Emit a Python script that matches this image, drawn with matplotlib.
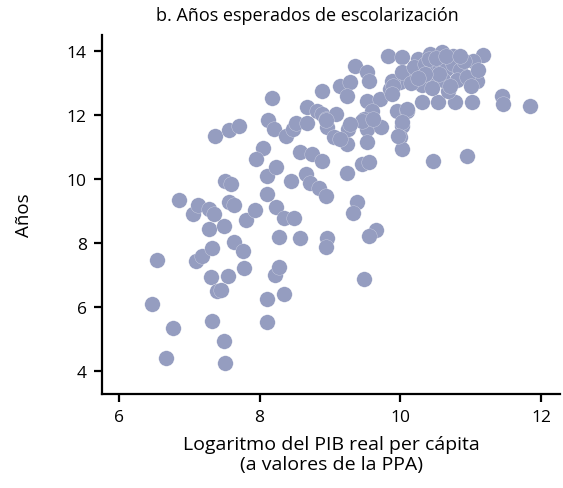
import matplotlib
matplotlib.use("Agg")
import matplotlib.pyplot as plt

# log real GDP per capita (PPP) and expected years of schooling, one pair per country
log_gdp = [
    6.54, 6.47, 6.77, 6.67, 7.33, 7.50, 7.51, 8.11, 8.11, 8.34,
    8.22, 8.28, 7.31, 7.55, 7.40, 7.45, 7.78, 7.10, 7.18, 7.33,
    7.64, 7.77, 7.28, 7.50, 6.86, 7.05, 7.13, 7.28, 7.35, 7.57,
    7.64, 7.81, 7.94, 8.11, 8.24, 8.35, 8.49, 8.27, 8.57, 8.96,
    8.94, 7.51, 7.60, 8.11, 8.24, 8.44, 8.66, 8.71, 8.84, 8.95,
    8.57, 8.74, 8.89, 8.05, 7.95, 7.37, 7.57, 7.71, 8.17, 8.12,
    8.21, 8.38, 8.47, 8.52, 8.68, 8.68, 8.81, 8.89, 8.89, 8.94,
    9.24, 9.46, 9.56, 9.39, 9.32, 9.66, 9.56, 9.49, 10.46, 10.95,
    9.83, 10.03, 9.35, 9.53, 9.56, 9.14, 9.28, 9.24, 8.96, 9.06,
    9.24, 9.25, 9.52, 9.71, 9.59, 9.49, 9.52, 9.53, 9.73, 9.85,
    9.99, 9.88, 9.95, 10.10, 10.02, 9.99, 10.02, 10.30, 10.53, 10.77,
    11.02, 10.67, 11.17, 11.03, 11.09, 11.44, 11.46, 11.84, 9.09, 9.46,
    9.61, 10.18, 10.38, 10.52, 10.25, 10.42, 10.59, 10.75, 10.03, 9.89,
    9.88, 10.09, 10.02, 9.96, 9.14, 9.28, 8.95,
    10.20, 10.35, 10.45, 10.55, 10.65, 10.75, 10.85, 10.90, 10.60, 10.80,
    10.95, 11.00, 10.30, 10.45, 10.70, 10.40, 10.50, 10.65, 10.85, 10.15,
    11.10, 10.55, 10.35, 10.25,
]
years = [
    7.47, 6.09, 5.34, 4.41, 5.56, 4.94, 4.25, 5.53, 6.25, 6.41,
    7.00, 7.25, 6.94, 6.97, 6.50, 6.53, 7.22, 7.44, 7.59, 7.84,
    8.03, 7.75, 8.44, 8.53, 9.34, 8.91, 9.19, 9.06, 8.91, 9.28,
    9.19, 8.72, 9.03, 9.53, 9.13, 8.78, 8.78, 8.19, 8.16, 8.16,
    7.88, 9.94, 9.84, 10.09, 10.38, 9.94, 10.16, 9.88, 9.72, 9.47,
    10.84, 10.78, 10.56, 10.97, 10.63, 11.34, 11.53, 11.66, 12.53, 11.84,
    11.56, 11.34, 11.56, 11.75, 11.75, 12.25, 12.13, 12.03, 12.75, 11.88,
    10.19, 10.47, 10.53, 9.28, 8.94, 8.41, 8.22, 6.88, 10.56, 10.72,
    13.84, 13.81, 13.53, 13.34, 13.06, 12.91, 13.03, 12.59, 11.63, 11.31,
    11.09, 11.56, 12.44, 12.50, 12.13, 11.88, 11.56, 11.16, 11.63, 12.81,
    13.03, 13.06, 12.13, 12.13, 11.66, 11.31, 10.94, 12.41, 12.41, 12.41,
    12.41, 12.75, 13.88, 13.69, 13.06, 12.59, 12.34, 12.28, 12.03, 11.81,
    11.88, 13.22, 13.13, 13.22, 13.75, 13.91, 13.97, 13.84, 13.34, 12.91,
    12.66, 12.19, 11.78, 11.34, 11.25, 11.72, 11.84,
    13.50, 13.60, 13.40, 13.60, 13.45, 13.60, 13.40, 13.70, 13.10, 13.10,
    13.20, 12.90, 12.95, 12.85, 12.90, 13.75, 13.80, 13.85, 13.85, 13.00,
    13.40, 13.30, 13.30, 13.15,
]

x_ticks = [6, 8, 10, 12]
y_ticks = [4, 6, 8, 10, 12, 14]

plt.rcParams['font.family'] = ['Open Sans', 'DejaVu Sans']

fig = plt.figure(figsize=(5.63, 4.89), dpi=100)
ax = fig.add_axes([0.181, 0.192, 0.814, 0.734])

ax.scatter(log_gdp, years, s=125, color='#959dc0', edgecolors='white',
           linewidths=0.15, zorder=3)

ax.set_xlim(5.76, 12.27)
ax.set_ylim(3.28, 14.5)
ax.set_xticks(x_ticks)
ax.set_yticks(y_ticks)

for side in ['top', 'right']:
    ax.spines[side].set_visible(False)
for side in ['left', 'bottom']:
    ax.spines[side].set_linewidth(1.6)
ax.tick_params(direction='out', length=6, width=1.6, labelsize=12.5,
               colors='black', pad=5)

ax.set_ylabel('Años', fontsize=13.5, labelpad=24)
ax.set_xlabel('Logaritmo del PIB real per cápita\n(a valores de la PPA)',
              fontsize=14, labelpad=7, linespacing=1.1)
fig.text(0.546, 0.967, 'b. Años esperados de escolarización',
         ha='center', va='center', fontsize=13)

fig.savefig('out.png', dpi=100)
